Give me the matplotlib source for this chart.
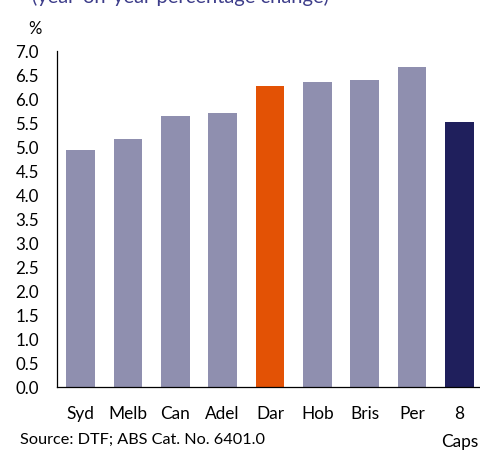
import matplotlib.pyplot as plt

plt.rcParams['font.family'] = ['Lato', 'DejaVu Sans']

# data
cities = ['Syd', 'Melb', 'Can', 'Adel', 'Dar', 'Hob', 'Bris', 'Per', '8\nCaps']
growth = [4.94, 5.16, 5.65, 5.71, 6.27, 6.36, 6.39, 6.67, 5.52]
bar_colors = ['#8f8faf'] * 4 + ['#e35205'] + ['#8f8faf'] * 3 + ['#1f1f5c']

fig = plt.figure(figsize=(4.8, 4.53), dpi=100)
ax = fig.add_axes([57 / 480, 1 - 387 / 453, 426 / 480, 336 / 453])

x = list(range(len(cities)))
ax.bar(x, growth, width=0.6, color=bar_colors, zorder=2)

ax.set_xlim(-0.5, len(cities) - 0.5)
ax.set_ylim(0, 7)
ax.set_yticks([i * 0.5 for i in range(15)])
ax.set_yticklabels(['%.1f' % (i * 0.5) for i in range(15)], fontsize=12.2)
ax.set_xticks(x)
ax.set_xticklabels(cities, fontsize=12.4, linespacing=1.9)
ax.tick_params(axis='y', length=0, pad=13)
ax.tick_params(axis='x', length=0, pad=14)
for lab in ax.get_xticklabels():
    lab.set_verticalalignment('top')

for s in ['top', 'right']:
    ax.spines[s].set_visible(False)
ax.spines['left'].set_linewidth(0.9)
ax.spines['bottom'].set_linewidth(0.9)

# labels
fig.text(28 / 480, 1 - 29 / 453, '%', fontsize=12, va='center', ha='left')
fig.text(32 / 480, 1 - 2.5 / 453, '(year-on-year percentage change)', fontsize=14.5,
         color='#3d3d8a', va='baseline', ha='left')
fig.text(20 / 480, 1 - 440 / 453, 'Source: DTF; ABS Cat. No. 6401.0', fontsize=11.7,
         va='center', ha='left')

fig.savefig('out.png', dpi=100)
